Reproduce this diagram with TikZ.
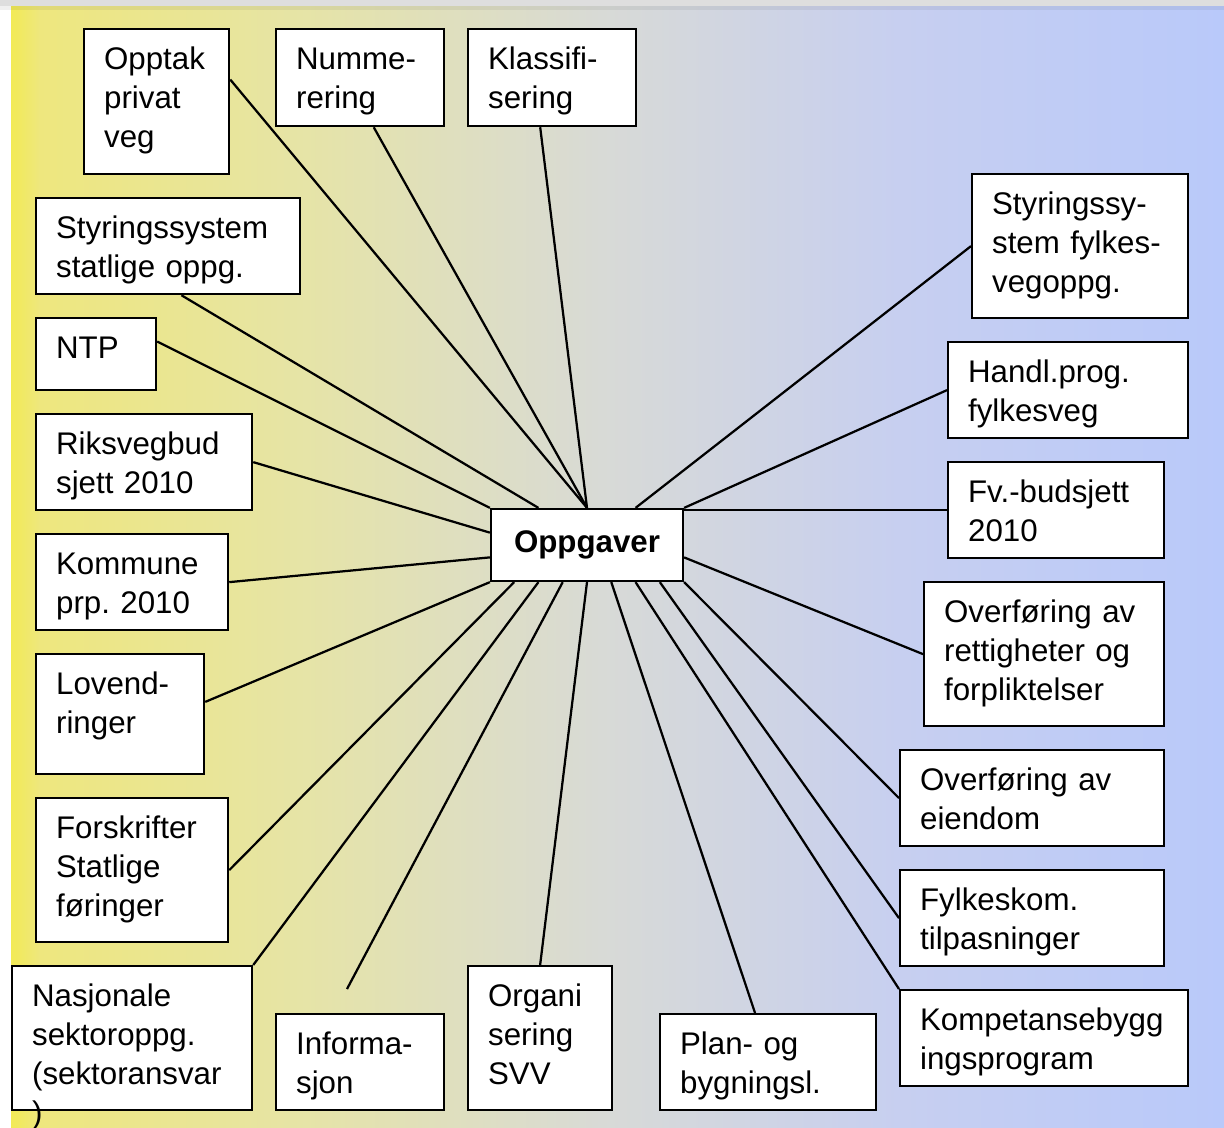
\documentclass[tikz,border=0pt]{standalone}
\usepackage{fontspec}
\setmainfont{Liberation Sans}
\usetikzlibrary{calc}
\hyphenpenalty=10000
\exhyphenpenalty=10000
\frenchspacing
\definecolor{ylwA}{HTML}{F2EA55}
\definecolor{ylwB}{HTML}{EEE77E}
\definecolor{ylwC}{HTML}{E6E4A6}
\definecolor{midG}{HTML}{D8DAD6}
\definecolor{bluA}{HTML}{C7CFF0}
\definecolor{bluB}{HTML}{B9C9FA}
\definecolor{topband}{HTML}{DEDEDE}
\pgfdeclarehorizontalshading{bgshade}{100bp}{color(0bp)=(ylwA); color(25bp)=(ylwA); color(26.2bp)=(ylwB); color(36.9bp)=(ylwC); color(49.3bp)=(midG); color(61.6bp)=(bluA); color(75bp)=(bluB); color(100bp)=(bluB)}

\begin{document}
\begin{tikzpicture}[x=0.02cm,y=-0.02cm]
\tikzset{box/.style = {draw, fill=white, line width=0.045cm, align=left, anchor=north west,
  inner xsep=0.4cm, inner ysep=0pt, text height=0.80cm, font=\fontsize{17.8}{22.2}\selectfont}}
\tikzset{sz/.code 2 args = {\pgfmathsetmacro\bw{(#1-40)*0.02}\pgfmathsetmacro\bd{(#2-40)*0.02}%
  \edef\szset{\noexpand\tikzset{text width=\bw cm, text depth=\bd cm}}\szset}}
\tikzset{edge/.style = {line width=0.045cm}}
\useasboundingbox (0,0) rectangle (1224,1127);
% background
\fill[topband] (0,0) rectangle (1224,6);
\fill[white] (0,6) rectangle (11,1127);
\shade[shading=bgshade] (11,6) rectangle (1224,1127);
\fill[black, opacity=0.06] (0,6) rectangle (1224,10);
% centre
\node[draw, fill=white, line width=0.045cm, minimum width=3.84cm, minimum height=1.44cm, inner sep=0pt,
  font=\fontsize{17.8}{22.2}\selectfont\bfseries] (oppg) at (587,545) {Oppgaver};
\foreach \i in {0,...,4} \coordinate (t\i) at ($(oppg.north west)!\i/4!(oppg.north east)$);
\foreach \i in {0,...,8} \coordinate (b\i) at ($(oppg.south west)!\i/8!(oppg.south east)$);
\coordinate (l1) at ($(oppg.north west)!1/3!(oppg.south west)$);
\coordinate (l2) at ($(oppg.north west)!2/3!(oppg.south west)$);
\coordinate (r2) at ($(oppg.north east)!2/3!(oppg.south east)$);
% boxes along the top
\node[box, sz={145}{145}] (opptak) at (83,28) {Opptak\\privat\\veg};
\node[box, sz={168}{97}] (nummer) at (275,28) {Numme-\\rering};
\node[box, sz={168}{97}] (klass) at (467,28) {Klassifi-\\sering};
% boxes on the left
\node[box, sz={264}{96}] (stystat) at (35,197) {Styringssystem\\statlige oppg.};
\node[box, sz={120}{72}] (ntp) at (35,317) {NTP};
\node[box, sz={216}{96}] (riks) at (35,413) {Riksvegbud\\sjett 2010};
\node[box, sz={192}{96}] (kommune) at (35,533) {Kommune\\prp. 2010};
\node[box, sz={168}{120}] (lovend) at (35,653) {Lovend-\\ringer};
\node[box, sz={192}{144}] (forskr) at (35,797) {Forskrifter\\Statlige\\føringer};
% boxes along the bottom
\node[box, sz={240}{144}] (nasjon) at (11,965) {Nasjonale\\sektoroppg.\\(sektoransvar\\)};
\node[box, sz={168}{96}] (info) at (275,1013) {Informa-\\sjon};
\node[box, sz={144}{144}] (org) at (467,965) {Organi\\sering\\SVV};
\node[box, sz={216}{96}] (plan) at (659,1013) {Plan- og\\bygningsl.};
% boxes on the right
\node[box, sz={216}{144}] (styfylk) at (971,173) {Styringssy-\\stem fylkes-\\vegoppg.};
\node[box, sz={240}{96}] (handl) at (947,341) {Handl.prog.\\fylkesveg};
\node[box, sz={216}{96}] (fvbud) at (947,461) {Fv.-budsjett\\2010};
\node[box, sz={240}{144}] (rett) at (923,581) {Overføring av\\rettigheter og\\forpliktelser};
\node[box, sz={264}{96}] (eiendom) at (899,749) {Overføring av\\eiendom};
\node[box, sz={264}{96}] (fylkkom) at (899,869) {Fylkeskom.\\tilpasninger};
\node[box, sz={288}{96}] (kompet) at (899,989) {Kompetansebygg\\ingsprogram};
\coordinate (infoend) at (347,989);
% spokes
\draw[edge] ($(opptak.north east)!0.35!(opptak.south east)$) to (t2);
\draw[edge] ($(nummer.south west)!0.58!(nummer.south east)$) to (t2);
\draw[edge] ($(klass.south west)!0.43!(klass.south east)$) to (t2);
\draw[edge] ($(stystat.south west)!0.55!(stystat.south east)$) to (t1);
\draw[edge] ($(ntp.north east)!0.33!(ntp.south east)$) to (t0);
\draw[edge] (riks.east) to (l1);
\draw[edge] (kommune.east) to (l2);
\draw[edge] ($(lovend.north east)!0.4!(lovend.south east)$) to (b0);
\draw[edge] (forskr.east) to (b1);
\draw[edge] (nasjon.north east) to (b2);
\draw[edge] (infoend) to (b3);
\draw[edge] (org.north) to (b4);
\draw[edge] ($(plan.north west)!0.44!(plan.north east)$) to (b5);
\draw[edge] (kompet.north west) to (b6);
\draw[edge] (fylkkom.west) to (b7);
\draw[edge] (eiendom.west) to (b8);
\draw[edge] (rett.west) to (r2);
\draw[edge] (fvbud.west) to (fvbud.west -| t4);
\draw[edge] (handl.west) to (t4);
\draw[edge] (styfylk.west) to (t3);
\end{tikzpicture}
\end{document}
